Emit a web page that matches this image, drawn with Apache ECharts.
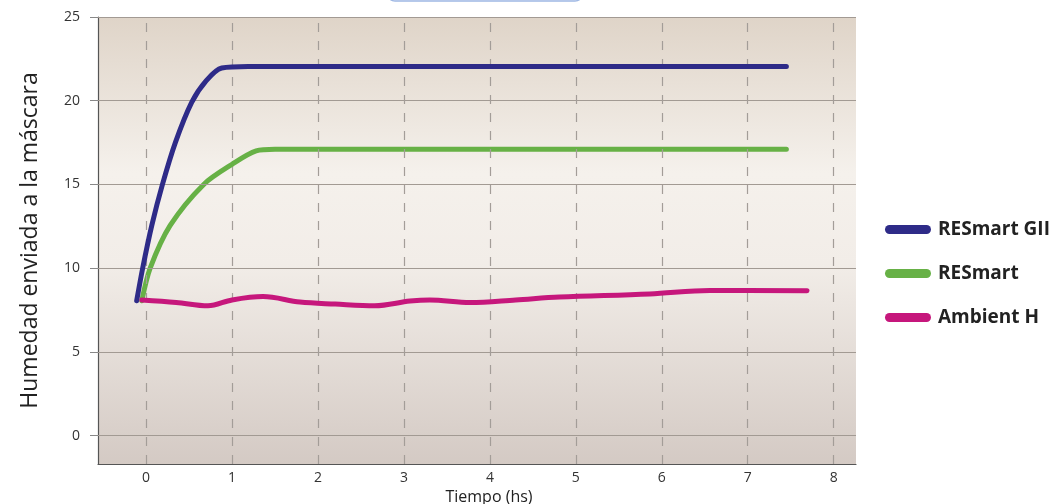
<!DOCTYPE html>
<html>
<head>
<meta charset="utf-8">
<script src="https://cdn.jsdelivr.net/npm/echarts@6/dist/echarts.min.js"></script>
<style>
html,body{margin:0;padding:0;background:#fff;}
#chart{width:1052px;height:504px;}
</style>
</head>
<body>
<div id="chart"></div>
<script>
var seriesNames = ['RESmart GII', 'RESmart', 'Ambient H'];
var xTicks = [0, 1, 2, 3, 4, 5, 6, 7, 8];
var yTicks = [0, 5, 10, 15, 20, 25];

var resmartGII = [
  [-0.11, 8.05], [-0.04, 10.0], [0.066, 12.55], [0.19, 15.0], [0.34, 17.5],
  [0.53, 19.9], [0.7, 21.2], [0.88, 21.95], [1.2, 22.04], [3.0, 22.05],
  [5.0, 22.05], [7.45, 22.05]
];
var resmart = [
  [-0.05, 8.05], [0.047, 10.0], [0.28, 12.55], [0.67, 15.0], [1.0, 16.2],
  [1.28, 17.0], [1.5, 17.1], [4.0, 17.1], [7.45, 17.1]
];
var ambientH = [
  [-0.05, 8.1], [0.35, 7.95], [0.72, 7.75], [1.0, 8.1], [1.36, 8.3],
  [1.79, 7.97], [2.2, 7.85], [2.66, 7.75], [3.07, 8.03], [3.3, 8.1],
  [3.77, 7.95], [4.3, 8.1], [4.81, 8.27], [5.86, 8.45], [6.56, 8.67], [7.69, 8.65]
];

var colors = ['#2e2b88', '#67b146', '#c6177c'];
var pill = 'path://M4.5,0 L41.5,0 A4.5,4.5 0 0 1 41.5,9 L4.5,9 A4.5,4.5 0 0 1 4.5,0 Z';

var chart = echarts.init(document.getElementById('chart'), null, {renderer: 'canvas'});
var option = {
  animation: false,
  color: colors,
  grid: {
    left: 98, right: 196, top: 17, bottom: 40,
    containLabel: false,
    outerBoundsMode: 'none',
    show: true,
    borderWidth: 0,
    backgroundColor: new echarts.graphic.LinearGradient(0, 0, 0, 1, [
      {offset: 0, color: '#dfd4c8'},
      {offset: 0.35, color: '#f5f1ec'},
      {offset: 0.55, color: '#f2ede8'},
      {offset: 1, color: '#d4cac4'}
    ])
  },
  graphic: [{
    type: 'rect',
    shape: {x: 387, y: -30, width: 196, height: 31, r: 8},
    style: {fill: '#f4f7fd', stroke: '#9fb8e4', lineWidth: 1.5},
    silent: true
  }],
  legend: {
    orient: 'vertical',
    left: 880,
    top: 215,
    itemWidth: 46,
    itemHeight: 9,
    itemGap: 25,
    icon: pill,
    textStyle: {fontFamily: 'Open Sans', fontWeight: 'bold', fontSize: 19, color: '#222', padding: [0, 0, 0, 2]},
    data: seriesNames
  },
  xAxis: {
    type: 'value',
    min: -0.56,
    max: 8.26,
    interval: 1,
    name: 'Tiempo (hs)',
    nameLocation: 'middle',
    nameGap: 19,
    nameTextStyle: {fontFamily: 'Open Sans', fontSize: 16, color: '#222', padding: [0, 0, 0, 24]},
    axisLine: {show: true, onZero: false, lineStyle: {color: '#555', width: 1.2}},
    axisTick: {show: false},
    axisLabel: {
      fontFamily: 'Open Sans', fontSize: 14, color: '#333', margin: 7,
      customValues: xTicks,
      formatter: function (v) { return String(v); }
    },
    splitLine: {show: false}
  },
  yAxis: {
    type: 'value',
    min: -1.7,
    max: 25,
    name: 'Humedad enviada a la máscara',
    nameLocation: 'middle',
    nameGap: 56,
    nameRotate: 90,
    nameTextStyle: {fontFamily: 'Open Sans', fontSize: 23, color: '#222'},
    axisLine: {show: true, onZero: false, lineStyle: {color: '#555', width: 1.2}},
    axisTick: {show: true, customValues: yTicks, length: 8, lineStyle: {color: '#888'}},
    axisLabel: {
      fontFamily: 'Open Sans', fontSize: 14, color: '#333', margin: 18,
      customValues: yTicks
    },
    splitLine: {show: false}
  },
  series: [
    {
      name: seriesNames[0], type: 'line', data: resmartGII,
      smooth: 0.3, showSymbol: false, z: 5,
      lineStyle: {width: 5, color: colors[0], cap: 'round', join: 'round'}
    },
    {
      name: seriesNames[1], type: 'line', data: resmart,
      smooth: 0.3, showSymbol: false, z: 4,
      lineStyle: {width: 5, color: colors[1], cap: 'round', join: 'round'}
    },
    {
      name: seriesNames[2], type: 'line', data: ambientH,
      smooth: 0.35, showSymbol: false, z: 6,
      lineStyle: {width: 5, color: colors[2], cap: 'round', join: 'round'}
    },
    {
      type: 'line', data: [], silent: true, z: 1,
      markLine: {
        silent: true, symbol: 'none', label: {show: false},
        lineStyle: {color: '#a29a93', width: 1.2, type: 'solid'},
        data: yTicks.map(function (v) { return {yAxis: v}; })
      }
    },
    {
      type: 'line', data: [], silent: true, z: 1,
      markLine: {
        silent: true, symbol: 'none', label: {show: false},
        lineStyle: {color: '#a39d98', width: 1.2, type: [9, 9]},
        data: xTicks.map(function (v) { return {xAxis: v}; })
      }
    }
  ]
};
chart.setOption(option);
</script>
</body>
</html>
